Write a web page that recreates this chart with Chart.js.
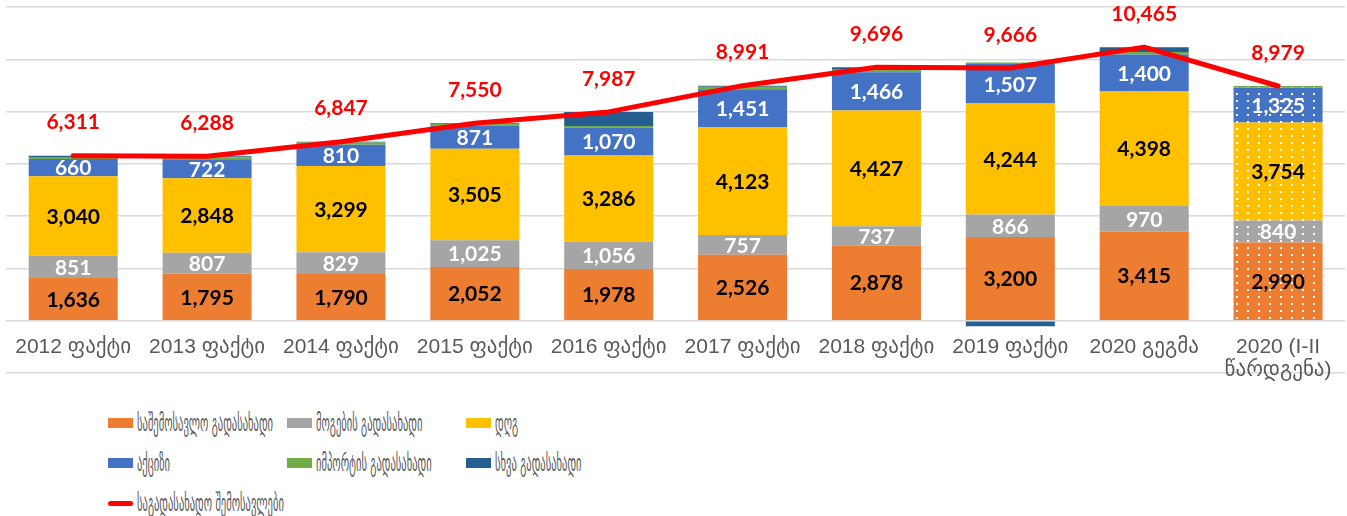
<!DOCTYPE html>
<html>
<head>
<meta charset="utf-8">
<script src="https://cdn.jsdelivr.net/npm/chart.js@4.4.1/dist/chart.umd.min.js"></script>
<style>
  html, body { margin: 0; padding: 0; background: #ffffff; }
  #wrap { position: relative; width: 1347px; height: 516px; overflow: hidden; }
  #chartBox { position: absolute; left: 0; top: 0; width: 1347px; height: 390px; }
  .lg { position: absolute; height: 30px; display: flex; align-items: center; white-space: nowrap; }
  .sw { width: 25px; height: 10px; flex: none; }
  .swl { width: 25px; height: 5px; border-radius: 3px; flex: none; }
  .lt { margin-left: 4px; font-family: "DejaVu Sans", sans-serif; font-size: 23px; line-height: 30px; color: #595959; transform-origin: left center; display: inline-block; }
</style>
</head>
<body>
<div id="wrap">
  <div id="chartBox"><canvas id="c"></canvas></div>
  <div id="legend"></div>
</div>
<script>
// ---- data ----
const categories = ['2012 ფაქტი', '2013 ფაქტი', '2014 ფაქტი', '2015 ფაქტი', '2016 ფაქტი', '2017 ფაქტი', '2018 ფაქტი', '2019 ფაქტი', '2020 გეგმა', ['2020 (I-II', 'წარდგენა)']];
const seriesNames = ['საშემოსავლო გადასახადი', 'მოგების გადასახადი', 'დღგ', 'აქციზი', 'იმპორტის გადასახადი', 'სხვა გადასახადი', 'საგადასახადო შემოსავლები'];
const incomeTax = [1636, 1795, 1790, 2052, 1978, 2526, 2878, 3200, 3415, 2990];
const profitTax = [851, 807, 829, 1025, 1056, 757, 737, 866, 970, 840];
const vat = [3040, 2848, 3299, 3505, 3286, 4123, 4427, 4244, 4398, 3754];
const excise = [660, 722, 810, 871, 1070, 1451, 1466, 1507, 1400, 1325];
const importTax = [80, 80, 85, 70, 60, 90, 95, 60, 100, 70];
const otherTax = [44, 36, 34, 27, 537, 44, 93, -211, 182, 0];
const totalRevenue = [6311, 6288, 6847, 7550, 7987, 8991, 9696, 9666, 10465, 8979];
const gridValues = [-2000, 0, 2000, 4000, 6000, 8000, 10000, 12000];

// ---- styles ----
const colors = ['#ED7D31', '#A5A5A5', '#FFC000', '#4472C4', '#70AD47', '#255E91'];
const labelColors = ['#000000', '#ffffff', '#000000', '#ffffff'];
const lineColor = '#FF0000';
const patternIndex = 9; // dotted bar (I-II submission)

function dotted(color) {
  const c = document.createElement('canvas');
  c.width = 11; c.height = 7;
  const x = c.getContext('2d');
  x.fillStyle = color; x.fillRect(0, 0, 11, 7);
  x.fillStyle = '#ffffff'; x.fillRect(4, 2, 2, 2);
  return x.createPattern(c, 'repeat');
}
function fills(color, patterned) {
  return categories.map((_, i) => (patterned && i === patternIndex) ? dotted(color) : color);
}
const fmt = v => v.toLocaleString('en-US');

const seriesValues = [incomeTax, profitTax, vat, excise, importTax, otherTax];
const barSets = seriesValues.map((vals, k) => ({
  type: 'bar',
  label: seriesNames[k],
  data: vals,
  backgroundColor: fills(colors[k], k < 4),
  borderWidth: 0,
  stack: 'taxes',
  order: 2,
  barPercentage: 0.665,
  categoryPercentage: 1.0
}));

const lineSet = {
  type: 'line',
  label: seriesNames[6],
  data: totalRevenue,
  borderColor: lineColor,
  backgroundColor: lineColor,
  borderWidth: 5,
  borderCapStyle: 'round',
  borderJoinStyle: 'round',
  pointRadius: 0,
  tension: 0,
  stack: 'total',
  order: 1
};

const valueLabels = {
  id: 'valueLabels',
  afterDatasetsDraw(chart) {
    const ctx = chart.ctx;
    ctx.save();
    ctx.font = 'bold 21px Lato, "DejaVu Sans", sans-serif';
    ctx.textAlign = 'center';
    ctx.textBaseline = 'middle';
    for (let k = 0; k < 4; k++) {
      const meta = chart.getDatasetMeta(k);
      meta.data.forEach((bar, i) => {
        ctx.fillStyle = labelColors[k];
        ctx.fillText(fmt(seriesValues[k][i]), bar.x, (bar.y + bar.base) / 2 + 1);
      });
    }
    const lm = chart.getDatasetMeta(6);
    ctx.fillStyle = lineColor;
    lm.data.forEach((pt, i) => {
      ctx.fillText(fmt(totalRevenue[i]), pt.x, pt.y - 33);
    });
    ctx.restore();
  }
};

new Chart(document.getElementById('c'), {
  data: { labels: categories, datasets: [...barSets, lineSet] },
  options: {
    responsive: true,
    maintainAspectRatio: false,
    animation: false,
    layout: { padding: { left: 5, right: 2, top: 7, bottom: 17 } },
    plugins: { legend: { display: false }, tooltip: { enabled: false } },
    scales: {
      x: {
        stacked: true,
        position: { y: 0 },
        grid: { display: false, drawTicks: false },
        border: { display: false },
        ticks: {
          color: '#595959',
          font: { family: '"Liberation Sans Narrow", "Liberation Sans", "DejaVu Sans", sans-serif', size: 21, lineHeight: 1.1 },
          padding: 15,
          maxRotation: 0,
          autoSkip: false
        }
      },
      y: {
        stacked: true,
        min: -2000,
        max: 12000,
        afterBuildTicks: s => { s.ticks = gridValues.map(v => ({ value: v })); },
        ticks: { display: false },
        grid: { color: '#D9D9D9', lineWidth: 1.5, drawTicks: false },
        border: { display: false },
        afterFit: s => { s.width = 0; }
      }
    }
  },
  plugins: [valueLabels]
});

// ---- legend (HTML) ----
const legendSlots = [
  [108, 423], [287, 423], [466, 423],
  [108, 463], [287, 463], [466, 463],
  [108, 503]
];
const legendEl = document.getElementById('legend');
const texts = [];
seriesNames.forEach((name, k) => {
  const d = document.createElement('div');
  d.className = 'lg';
  d.style.left = legendSlots[k][0] + 'px';
  d.style.top = (legendSlots[k][1] - 15) + 'px';
  const s = document.createElement('span');
  if (k < 6) { s.className = 'sw'; s.style.background = colors[k]; }
  else { s.className = 'swl'; s.style.background = lineColor; }
  const t = document.createElement('span');
  t.className = 'lt';
  t.textContent = name;
  d.appendChild(s); d.appendChild(t);
  legendEl.appendChild(d);
  texts.push(t);
});
const squeeze = Math.min(1, 136 / texts[0].getBoundingClientRect().width);
texts.forEach(t => { t.style.transform = 'scaleX(' + squeeze.toFixed(3) + ')'; });
</script>
</body>
</html>
